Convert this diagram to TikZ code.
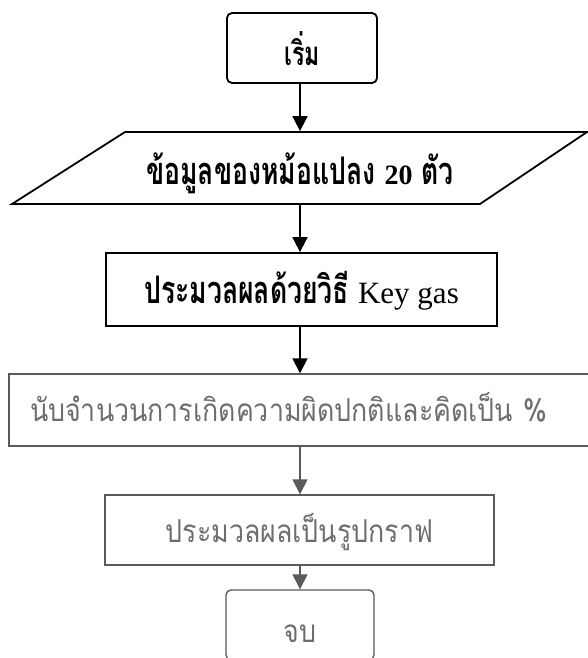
\documentclass[tikz,border=0pt]{standalone}
\usepackage{fontspec}
\usetikzlibrary{arrows.meta}
\newfontfamily\thaifont[Script=Thai,FakeStretch=0.85]{Loma}
\newfontfamily\thaicond[Script=Thai,FakeStretch=0.7]{Loma}
\newfontfamily\latserif{Liberation Serif}
\definecolor{linegray}{HTML}{5A5A5A}
\definecolor{textgray}{HTML}{6E6E6E}
\begin{document}
\begin{tikzpicture}[x=1pt,y=-1pt,
  blk/.style={draw=black,line width=1.8pt,inner sep=0pt,font=\thaicond\bfseries\fontsize{38}{44}\selectfont},
  gry/.style={draw=linegray,line width=1.4pt,inner sep=0pt,text=textgray,font=\thaifont\fontsize{31.5}{36}\selectfont},
  arr/.style={line width=1.8pt,-{Triangle[length=15pt,width=15pt]}},
  garr/.style={draw=linegray,line width=1.4pt,-{Triangle[length=15pt,width=15pt]},fill=linegray}]
\useasboundingbox (0,0) rectangle (588,658);
\fill[white] (0,0) rectangle (588,658);
% start
\node[blk,rounded corners=5pt,minimum width=150pt,minimum height=70pt,text height=36pt,text depth=0pt,font=\thaicond\bfseries\fontsize{33}{38}\selectfont] (s) at (302,48) {เริ่ม};
% parallelogram
\node[blk,draw=none,minimum height=72pt,text height=32pt,text depth=0pt] (p) at (300,168) {ข้อมูลของหม้อแปลง {\latserif\bfseries\fontsize{28}{32}\selectfont 20} ตัว};
\draw[line width=1.8pt,line join=miter] (12,204) -- (125,132) -- (587,132) -- (480,204) -- cycle;
% key gas
\node[blk,minimum width=391pt,minimum height=73pt,text height=28pt,text depth=0pt] (k) at (301.5,289.5) {ประมวลผลด้วยวิธี {\latserif\mdseries\fontsize{31}{36}\selectfont Key gas}};
% count
\node[gry,minimum width=583pt,minimum height=72pt,text width=541pt,inner xsep=21pt,align=left,text height=22pt,text depth=0pt] (c) at (300.5,410) {นับจำนวนการเกิดความผิดปกติและคิดเป็น \%};
% graph
\node[gry,minimum width=389pt,minimum height=70pt,text height=25pt,text depth=0pt] (g) at (299.5,530) {ประมวลผลเป็นรูปกราฟ};
% end
\node[gry,rounded corners=5pt,minimum width=148pt,minimum height=70pt,text height=34pt,text depth=0pt] (e) at (300,625) {จบ};
% arrows
\draw[arr] (p.north |- s.south) -- (p.north);
\draw[arr] (p.south) -- (p.south |- k.north);
\draw[arr] (p.south |- k.south) -- (p.south |- c.north);
\draw[garr] (p.south |- c.south) -- (p.south |- g.north);
\draw[garr] (p.south |- g.south) -- (p.south |- e.north);
\end{tikzpicture}
\end{document}
